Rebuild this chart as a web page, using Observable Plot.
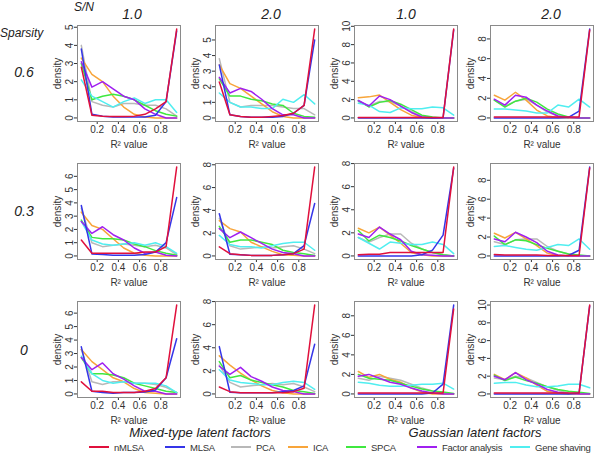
<!DOCTYPE html>
<html><head><meta charset="utf-8">
<script src="https://cdn.jsdelivr.net/npm/d3@7"></script>
<script src="https://cdn.jsdelivr.net/npm/@observablehq/plot@0.6"></script>
<style>
body{margin:0;background:#fff;font-family:Arial,"Liberation Sans",sans-serif;}
#wrap{position:relative;width:600px;height:455px;overflow:hidden;}
.t{position:absolute;white-space:nowrap;color:#222;line-height:1;}
.it{font-style:italic;}
.panel{position:absolute;}
.leg{position:absolute;display:flex;align-items:center;font-size:9.5px;letter-spacing:-0.25px;color:#333;white-space:nowrap;}
.leg span.sw{display:inline-block;width:20px;height:2px;margin-right:5px;}
</style></head><body><div id="wrap"></div>
<script>
// ---------- data ----------
const binCenters = [0.05,0.15,0.25,0.35,0.45,0.55,0.65,0.75,0.85,0.95];
const methods = ["nMLSA","MLSA","PCA","ICA","SPCA","Factor analysis","Gene shaving"];
const methodColors = ["#e0103c","#3535e8","#b8b8b8","#f8a53a","#3fe83f","#a020f0","#50eef0"];
const sparsityLabels = ["0.6","0.3","0"];
const snLabels = ["1.0","2.0","1.0","2.0"];
const groupLabels = ["Mixed-type latent factors","Gaussian latent factors"];
const xTicks = [0.2,0.4,0.6,0.8];
const yTickSteps = [[1,1,2,2],[1,2,2,2],[1,2,2,2]];

// series order in each panel: nMLSA, MLSA, PCA, ICA, SPCA, Factor analysis, Gene shaving
const sp06_mixed_sn1 = [
  [2.8,0.15,0.1,0.08,0.08,0.1,0.2,0.5,0.9,4.9],
  [3.8,0.2,0.1,0.05,0.05,0.05,0.05,0.15,0.9,4.8],
  [4.0,0.9,0.7,0.6,0.8,0.8,0.7,0.7,0.5,0.1],
  [3.3,2.4,2.0,1.2,0.6,0.2,0.05,0,0,0],
  [3.0,1.0,1.2,1.3,1.2,1.0,0.7,0.4,0.2,0.1],
  [3.1,1.7,2.0,1.6,1.2,1.0,0.5,0.2,0,0],
  [2.1,1.2,0.9,0.6,0.9,1.1,0.8,1.0,1.0,0.3]];
const sp06_mixed_sn2 = [
  [2.3,0.2,0.1,0.05,0.05,0.1,0.15,0.3,0.8,5.7],
  [3.4,0.2,0.1,0.05,0.05,0.05,0.1,0.3,0.8,5.0],
  [3.8,1.0,0.7,0.8,0.8,0.8,0.7,0.6,0.6,0.2],
  [3.4,2.2,1.9,1.4,0.9,0.4,0.1,0,0,0],
  [2.5,1.4,1.4,1.2,1.1,0.9,0.8,0.3,0.1,0.05],
  [2.6,1.6,1.9,1.7,1.2,0.6,0.2,0.2,0,0],
  [1.6,1.0,0.7,0.7,0.6,0.6,1.2,1.0,1.5,0.9]];
const sp06_gauss_sn1 = [
  [0.05,0.05,0.05,0.05,0.05,0.05,0.05,0.05,0.05,9.7],
  [0,0,0,0,0,0,0,0,0.05,9.6],
  [1.8,1.3,1.8,1.8,1.3,0.7,0.2,0,0,0],
  [2.2,2.3,2.5,1.7,0.9,0.3,0.05,0,0,0],
  [1.9,1.2,1.7,1.9,1.5,0.9,0.3,0.1,0,0],
  [1.9,1.3,2.4,2.0,1.3,0.6,0.1,0,0,0],
  [1.6,1.4,0.7,0.6,1.1,1.0,1.0,1.2,1.1,0.3]];
const sp06_gauss_sn2 = [
  [0.1,0.1,0.1,0.1,0.1,0.1,0.1,0.1,0.1,8.9],
  [0,0,0,0,0,0,0,0.05,0.7,9.0],
  [1.8,1.2,1.7,1.9,1.3,0.6,0.2,0.05,0,0],
  [2.3,1.8,2.6,1.8,0.8,0.2,0.05,0,0,0],
  [1.8,1.1,1.7,2.0,1.6,0.9,0.4,0.1,0,0],
  [1.9,1.3,2.3,2.1,1.3,0.7,0.2,0.05,0,0],
  [0.9,0.9,0.8,0.7,0.5,0.5,1.3,1.1,1.9,1.1]];
const sp03_mixed_sn1 = [
  [1.2,0.2,0.2,0.2,0.2,0.2,0.3,0.3,0.7,6.7],
  [3.8,0.15,0.1,0.05,0.05,0.05,0.1,0.3,1.0,4.4],
  [3.6,1.0,0.7,0.8,0.9,0.8,0.7,0.8,0.6,0.1],
  [3.3,2.3,2.0,1.3,0.6,0.2,0.05,0,0,0],
  [2.7,1.4,1.3,1.3,1.2,0.9,0.7,0.4,0.2,0.05],
  [2.6,1.7,2.2,1.6,1.2,0.6,0.2,0.3,0.05,0],
  [2.6,1.2,0.9,0.8,0.9,1.0,0.8,1.0,0.7,0.2]];
const sp03_mixed_sn2 = [
  [0.8,0.2,0.1,0.05,0.05,0.05,0.1,0.2,0.6,7.8],
  [3.7,0.15,0.1,0.05,0.05,0.05,0.1,0.2,0.9,4.6],
  [3.3,0.9,0.6,0.7,0.8,0.7,0.8,0.9,0.6,0.2],
  [3.1,2.4,2.1,1.2,0.8,0.4,0.1,0.05,0,0],
  [2.6,1.2,1.4,1.4,1.2,1.0,0.5,0.3,0.2,0.05],
  [2.4,1.6,2.1,1.6,1.1,0.6,0.3,0.2,0,0],
  [1.8,1.0,0.8,0.8,0.7,0.9,1.1,1.2,1.2,0.5]];
const sp03_gauss_sn1 = [
  [0.1,0.15,0.15,0.3,0.3,0.3,0.3,0.3,0.3,7.7],
  [0,0,0,0,0,0,0.1,0.5,1.8,7.6],
  [1.6,1.2,1.6,1.9,1.9,1.1,0.6,0.3,0.1,0],
  [2.4,2.0,2.5,1.8,1.1,0.3,0.1,0,0,0],
  [2.2,1.3,1.8,1.6,1.3,0.9,0.6,0.3,0.1,0],
  [1.9,1.6,2.5,1.9,1.4,0.4,0.1,0.05,0,0],
  [1.6,1.1,0.6,1.2,1.1,1.0,1.0,1.2,1.0,0.2]];
const sp03_gauss_sn2 = [
  [0.15,0.1,0.1,0.1,0.1,0.05,0.05,0.05,0.05,9.3],
  [0,0,0,0,0,0,0,0.05,0.6,9.4],
  [1.5,1.2,1.7,1.8,1.8,1.0,0.5,0.2,0,0],
  [2.4,1.9,2.5,1.8,1.1,0.3,0.05,0,0,0],
  [2.1,1.2,1.7,1.6,1.2,0.8,0.5,0.2,0.1,0],
  [1.8,1.5,2.5,2.0,1.4,0.5,0.1,0,0,0],
  [1.0,1.1,0.9,0.7,0.6,0.9,1.2,1.1,1.8,0.7]];
const sp0_mixed_sn1 = [
  [0.9,0.2,0.2,0.1,0.1,0.1,0.2,0.4,1.2,6.6],
  [3.5,0.2,0.1,0.05,0.1,0.1,0.15,0.3,1.2,4.1],
  [3.3,0.9,0.7,0.9,0.9,0.8,0.8,0.7,0.5,0.1],
  [3.3,2.4,1.8,1.2,0.9,0.4,0.1,0.05,0,0],
  [2.7,1.5,1.5,1.4,1.2,0.8,0.6,0.4,0.2,0.1],
  [2.7,1.8,2.3,1.5,1.1,0.6,0.2,0.2,0,0],
  [2.8,1.5,1.0,0.8,0.9,0.8,0.8,0.8,0.6,0.1]];
const sp0_mixed_sn2 = [
  [0.6,0.2,0.1,0.1,0.1,0.1,0.1,0.2,0.5,7.7],
  [4.1,0.15,0.1,0.1,0.1,0.1,0.2,0.3,0.7,4.3],
  [2.5,1.0,0.6,0.7,0.8,0.9,0.8,0.9,0.6,0.2],
  [3.3,2.5,1.8,1.2,0.7,0.3,0.1,0,0,0],
  [2.8,1.4,1.6,1.2,1.0,0.8,0.6,0.3,0.2,0.05],
  [2.4,1.7,2.3,1.5,1.1,0.6,0.3,0.2,0,0],
  [2.1,1.2,1.0,0.9,0.8,0.8,1.0,1.1,1.0,0.4]];
const sp0_gauss_sn1 = [
  [0.1,0.1,0.1,0.1,0.1,0.1,0.1,0.1,0.1,8.7],
  [0,0,0,0,0,0,0,0.1,1.0,9.1],
  [1.6,1.4,1.8,1.6,1.4,1.0,0.6,0.3,0.1,0],
  [2.3,1.7,2.0,1.5,1.2,0.6,0.2,0,0,0],
  [2.0,1.6,1.5,1.4,1.1,0.8,0.5,0.3,0.2,0.05],
  [1.8,2.0,1.6,1.2,1.0,0.6,0.3,0.1,0,0],
  [1.2,1.1,0.9,0.8,0.8,0.9,1.0,1.0,1.1,0.5]];
const sp0_gauss_sn2 = [
  [0.1,0.1,0.1,0.1,0.1,0.1,0.1,0.1,0.1,10.0],
  [0,0,0,0,0,0,0,0,0.1,9.9],
  [1.8,1.6,2.0,1.8,1.3,0.8,0.4,0.1,0,0],
  [2.2,1.6,2.4,1.8,1.0,0.3,0.1,0,0,0],
  [2.1,1.5,1.9,1.5,1.2,0.8,0.5,0.3,0.2,0.05],
  [2.0,1.6,2.4,1.6,1.1,0.5,0.2,0.05,0,0],
  [1.2,1.3,1.3,1.0,0.8,0.8,0.9,1.1,1.1,0.7]];

const panels = [
  [sp06_mixed_sn1, sp06_mixed_sn2, sp06_gauss_sn1, sp06_gauss_sn2],
  [sp03_mixed_sn1, sp03_mixed_sn2, sp03_gauss_sn1, sp03_gauss_sn2],
  [sp0_mixed_sn1, sp0_mixed_sn2, sp0_gauss_sn1, sp0_gauss_sn2]];

// ---------- layout ----------
const wrap = document.getElementById("wrap");
const colLeft = [77, 215, 354, 490];
const rowTop = [25, 163, 301];
const boxW = 103, boxH = 96;
const mL = 32, mR = 4, mT = 4, mB = 30;
const drawOrder = [2, 3, 4, 6, 5, 1, 0];

function addText(txt, x, y, size, cls, anchor) {
  const d = document.createElement("div");
  d.className = "t " + (cls || "");
  d.textContent = txt;
  d.style.fontSize = size + "px";
  d.style.top = (y - size / 2) + "px";
  if (anchor === "middle") { d.style.left = x + "px"; d.style.transform = "translateX(-50%)"; }
  else d.style.left = x + "px";
  wrap.appendChild(d);
}

panels.forEach((row, r) => {
  row.forEach((series, c) => {
    const rows = [];
    drawOrder.forEach(k => {
      series[k].forEach((v, i) => rows.push({method: methods[k], k, x: binCenters[i], y: v}));
    });
    const maxY = d3.max(rows, d => d.y);
    const step = yTickSteps[r][c];
    const yTicks = d3.range(0, maxY * 1.04 + 1e-9, step);
    const chart = Plot.plot({
      width: mL + boxW + mR,
      height: mT + boxH + mB,
      marginLeft: mL, marginRight: mR, marginTop: mT, marginBottom: mB,
      style: {fontSize: "10px", fontFamily: "Arial, 'Liberation Sans', sans-serif", color: "#333", background: "transparent", overflow: "visible"},
      x: {domain: [0.014, 0.986], ticks: xTicks, tickFormat: d3.format(".1f"), tickSize: 3, tickPadding: 1,
          label: "R\u00B2 value", labelAnchor: "center", labelOffset: 26, labelArrow: "none"},
      y: {domain: [-0.04 * maxY, 1.04 * maxY], ticks: yTicks, tickFormat: d3.format("d"), tickSize: 3, tickPadding: 2,
          tickRotate: -90, label: "density", labelAnchor: "center", labelOffset: 24, labelArrow: "none"},
      color: {domain: methods, range: methodColors},
      marks: [
        Plot.frame({stroke: "#8a8a8a", strokeWidth: 1}),
        Plot.line(rows, {x: "x", y: "y", z: "method", stroke: "method", strokeWidth: 1.5, curve: "linear"})
      ]
    });
    chart.classList.add("panel");
    chart.style.left = (colLeft[c] - mL) + "px";
    chart.style.top = (rowTop[r] - mT) + "px";
    wrap.appendChild(chart);
  });
});

// headers
addText("S/N", 74, 7, 12, "it");
const colCenters = [132, 271, 406, 551];
snLabels.forEach((s, c) => addText(s, colCenters[c], 14, 14, "it", "middle"));
addText("Sparsity", 0, 33, 12, "it");
const rowCenters = [72, 211, 350];
sparsityLabels.forEach((s, r) => addText(s, 24, rowCenters[r], 14, "it", "middle"));

// group titles
addText(groupLabels[0], 200, 432, 13, "it", "middle");
addText(groupLabels[1], 475, 432, 13, "it", "middle");

// legend
const legX = [89, 165, 231, 288, 346, 417, 510];
methods.forEach((m, i) => {
  const d = document.createElement("div");
  d.className = "leg";
  d.style.left = legX[i] + "px";
  d.style.top = "441px";
  d.style.height = "12px";
  const sw = document.createElement("span");
  sw.className = "sw";
  sw.style.background = methodColors[i];
  d.appendChild(sw);
  const tx = document.createElement("span");
  tx.textContent = m;
  d.appendChild(tx);
  wrap.appendChild(d);
});
</script></body></html>
